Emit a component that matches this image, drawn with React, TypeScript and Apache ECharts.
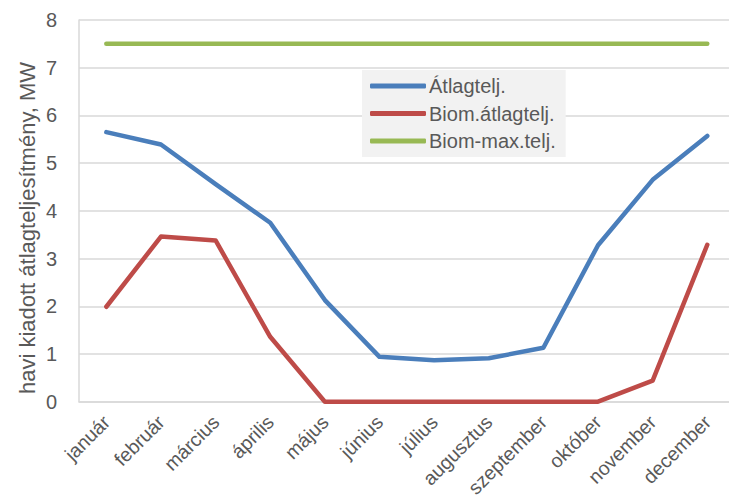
import React, { useEffect, useRef } from "react";
import * as echarts from "echarts";

const months = ["január", "február", "március", "április", "május", "június", "július", "augusztus", "szeptember", "október", "november", "december"];
const atlag = [5.65, 5.39, 4.56, 3.75, 2.13, 0.94, 0.87, 0.91, 1.13, 3.28, 4.65, 5.57];
const biomAtlag = [1.99, 3.46, 3.38, 1.36, 0, 0, 0, 0, 0, 0, 0.44, 3.29];
const biomMax = [7.5, 7.5, 7.5, 7.5, 7.5, 7.5, 7.5, 7.5, 7.5, 7.5, 7.5, 7.5];
const seriesNames = ["Átlagtelj.", "Biom.átlagtelj.", "Biom-max.telj."];
const yTitle = "havi kiadott átlagteljesítmény, MW";

const FONT = "'Liberation Sans', Arial, sans-serif";
const TXT = "#595959";

export default function App() {
  const ref = useRef<HTMLDivElement>(null);
  useEffect(() => {
    const chart = echarts.init(ref.current!, null, { renderer: "svg" });
    const mk = (name: string, data: number[], color: string) => ({
      name,
      type: "line",
      data,
      showSymbol: false,
      symbol: "none",
      lineStyle: { color, width: 4.5, cap: "round", join: "round" },
      itemStyle: { color },
    });
    chart.setOption({
      animation: false,
      textStyle: { fontFamily: FONT },
      grid: { left: 79, top: 20, width: 655.6, height: 381.7, containLabel: false, outerBoundsMode: "none" },
      xAxis: {
        type: "category",
        data: months,
        boundaryGap: true,
        axisLine: { show: true, lineStyle: { color: "#d9d9d9", width: 1.5 } },
        axisTick: { show: false },
        axisLabel: { rotate: 45, color: TXT, fontSize: 19.5, fontFamily: FONT, margin: 17, interval: 0, hideOverlap: false },
        splitLine: { show: false },
      },
      yAxis: {
        type: "value",
        min: 0,
        max: 8,
        interval: 1,
        axisLine: { show: true, lineStyle: { color: "#d9d9d9", width: 1.5 } },
        axisTick: { show: false },
        axisLabel: { color: TXT, fontSize: 20, fontFamily: FONT, margin: 22 },
        splitLine: { show: true, lineStyle: { color: "#d9d9d9", width: 1.5 } },
      },
      legend: {
        orient: "vertical",
        left: 362,
        top: 70,
        backgroundColor: "#f2f2f2",
        padding: [6, 10, 6, 8],
        itemWidth: 56,
        itemHeight: 5,
        itemGap: 7.5,
        icon: "roundRect",
        textStyle: { color: TXT, fontSize: 20, lineHeight: 20, fontFamily: FONT, padding: [0, 0, 0, -2] },
        data: seriesNames,
      },
      graphic: [
        {
          type: "text",
          x: 27,
          y: 228,
          rotation: Math.PI / 2,
          style: {
            text: yTitle,
            fill: TXT,
            font: `22px ${FONT}`,
            textAlign: "center",
            textVerticalAlign: "middle",
          },
        },
      ],
      series: [
        mk(seriesNames[0], atlag, "#4a7ebb"),
        mk(seriesNames[1], biomAtlag, "#be4b48"),
        mk(seriesNames[2], biomMax, "#98b954"),
      ],
    });
    return () => chart.dispose();
  }, []);
  return <div ref={ref} style={{ width: 729, height: 502, position: "absolute", left: 0, top: 0 }} />;
}
